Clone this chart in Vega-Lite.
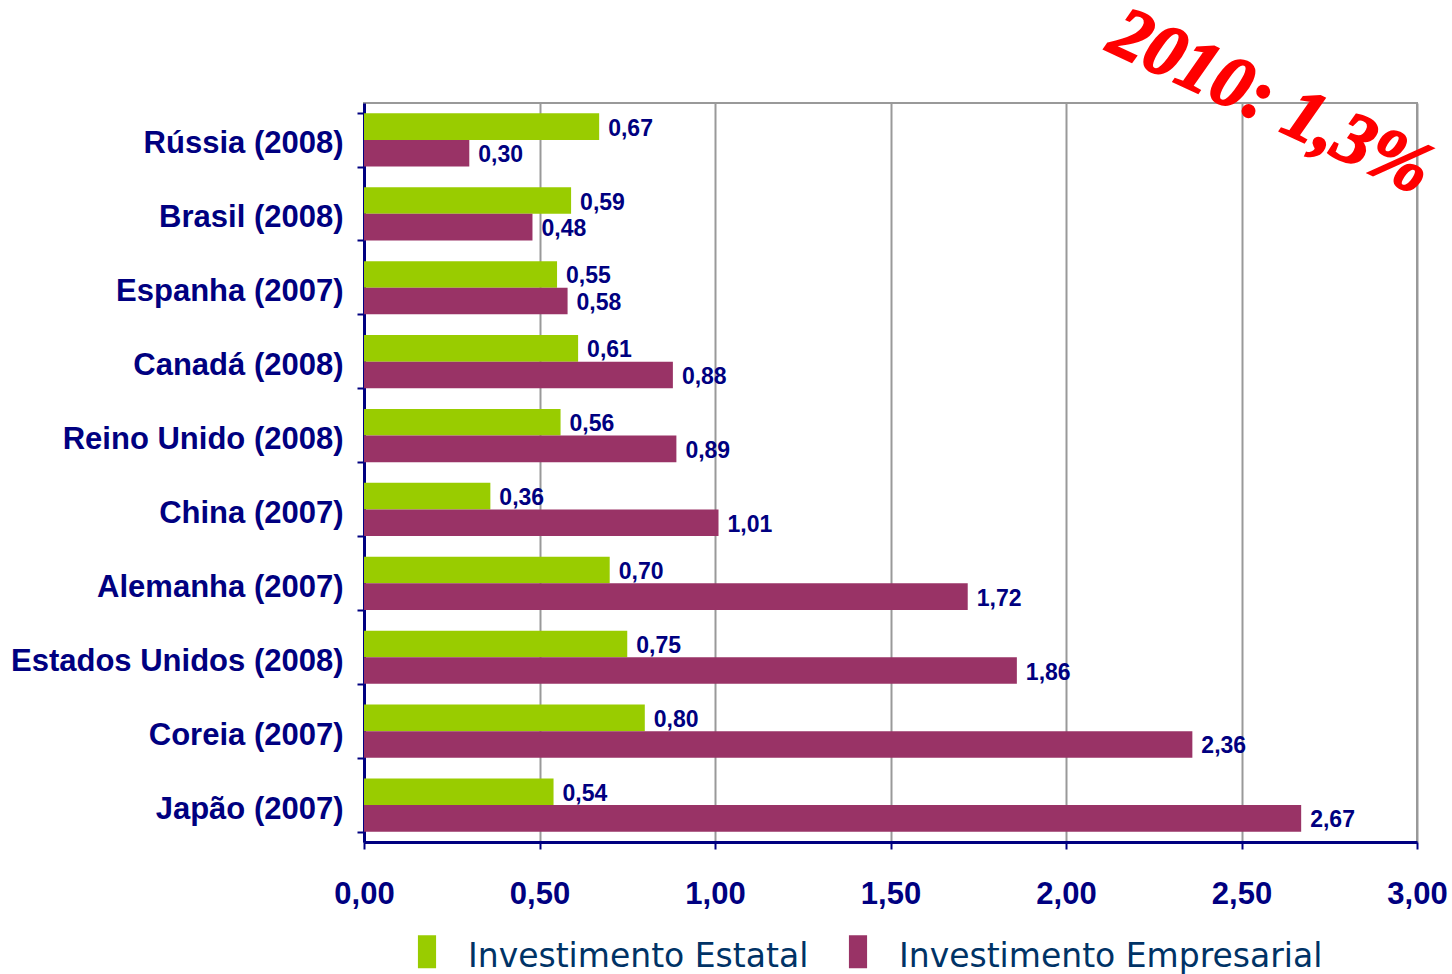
{
  "$schema": "https://vega.github.io/schema/vega-lite/v6.json",
  "width": 1053,
  "height": 739,
  "autosize": {"type": "none"},
  "padding": {"left": 364, "top": 103, "right": 35, "bottom": 132},
  "background": "white",
  "config": {
    "locale": {"number": {"decimal": ",", "thousands": ".", "grouping": [3], "currency": ["", ""]}},
    "view": {"stroke": "#999999", "strokeWidth": 2},
    "font": "Liberation Sans"
  },
  "datasets": {
    "invest": [
      {"pais": "Rússia (2008)", "serie": "Investimento Estatal", "valor": 0.67},
      {"pais": "Rússia (2008)", "serie": "Investimento Empresarial", "valor": 0.30},
      {"pais": "Brasil (2008)", "serie": "Investimento Estatal", "valor": 0.59},
      {"pais": "Brasil (2008)", "serie": "Investimento Empresarial", "valor": 0.48},
      {"pais": "Espanha (2007)", "serie": "Investimento Estatal", "valor": 0.55},
      {"pais": "Espanha (2007)", "serie": "Investimento Empresarial", "valor": 0.58},
      {"pais": "Canadá (2008)", "serie": "Investimento Estatal", "valor": 0.61},
      {"pais": "Canadá (2008)", "serie": "Investimento Empresarial", "valor": 0.88},
      {"pais": "Reino Unido (2008)", "serie": "Investimento Estatal", "valor": 0.56},
      {"pais": "Reino Unido (2008)", "serie": "Investimento Empresarial", "valor": 0.89},
      {"pais": "China (2007)", "serie": "Investimento Estatal", "valor": 0.36},
      {"pais": "China (2007)", "serie": "Investimento Empresarial", "valor": 1.01},
      {"pais": "Alemanha (2007)", "serie": "Investimento Estatal", "valor": 0.70},
      {"pais": "Alemanha (2007)", "serie": "Investimento Empresarial", "valor": 1.72},
      {"pais": "Estados Unidos (2008)", "serie": "Investimento Estatal", "valor": 0.75},
      {"pais": "Estados Unidos (2008)", "serie": "Investimento Empresarial", "valor": 1.86},
      {"pais": "Coreia (2007)", "serie": "Investimento Estatal", "valor": 0.80},
      {"pais": "Coreia (2007)", "serie": "Investimento Empresarial", "valor": 2.36},
      {"pais": "Japão (2007)", "serie": "Investimento Estatal", "valor": 0.54},
      {"pais": "Japão (2007)", "serie": "Investimento Empresarial", "valor": 2.67}
    ],
    "nota": [
      {"texto": "2010: 1,3%", "x": 3, "pais": "Rússia (2008)"}
    ]
  },
  "layer": [
    {
      "data": {"name": "invest"},
      "mark": {"type": "bar"},
      "encoding": {
        "y": {
          "field": "pais",
          "type": "nominal",
          "sort": null,
          "scale": {"paddingInner": 0.28, "paddingOuter": 0.14},
          "axis": {
            "title": null,
            "labelFont": "Liberation Sans",
            "labelFontSize": 31,
            "labelFontWeight": "bold",
            "labelColor": "#000080",
            "labelPadding": 14,
            "labelOffset": 4,
            "labelLimit": 0,
            "tickSize": 7,
            "tickWidth": 2,
            "tickColor": "#000080",
            "tickBand": "extent",
            "domainColor": "#000080",
            "domainWidth": 3
          }
        },
        "yOffset": {"field": "serie", "sort": ["Investimento Estatal", "Investimento Empresarial"]},
        "x": {
          "field": "valor",
          "type": "quantitative",
          "scale": {"domain": [0, 3]},
          "axis": {
            "title": null,
            "values": [0, 0.5, 1, 1.5, 2, 2.5, 3],
            "format": ".2f",
            "grid": true,
            "gridColor": "#999999",
            "gridWidth": 2,
            "labelFont": "Liberation Sans",
            "labelFontSize": 31,
            "labelFontWeight": "bold",
            "labelColor": "#000080",
            "labelPadding": 30,
            "labelFlush": false,
            "tickSize": 7,
            "tickWidth": 2,
            "tickColor": "#000080",
            "domainColor": "#000080",
            "domainWidth": 3
          }
        },
        "color": {
          "field": "serie",
          "type": "nominal",
          "sort": ["Investimento Estatal", "Investimento Empresarial"],
          "scale": {"domain": ["Investimento Estatal", "Investimento Empresarial"], "range": ["#99CC00", "#993366"]},
          "legend": {
            "title": null,
            "orient": "none",
            "legendX": 46.5,
            "legendY": 832,
            "padding": 0,
            "direction": "horizontal",
            "symbolType": "M-0.55,-1H0.55V1H-0.55Z",
            "symbolSize": 1089,
            "symbolStrokeWidth": 0,
            "symbolOpacity": 1,
            "labelFont": "DejaVu Sans",
            "labelFontSize": 33,
            "labelColor": "#003366",
            "labelOffset": 24.5,
            "labelLimit": 0,
            "columnPadding": 33,
            "encode": {
              "symbols": {
                "update": {
                  "fill": {"signal": "datum.value === 'Investimento Empresarial' ? '#990033' : '#99CC00'"}
                }
              },
              "labels": {
                "update": {
                  "dy": {"value": 5}
                }
              }
            }
          }
        }
      }
    },
    {
      "data": {"name": "invest"},
      "mark": {"type": "text", "align": "left", "baseline": "middle", "dx": 9, "dy": 2, "font": "Liberation Sans", "fontSize": 23, "fontWeight": "bold", "color": "#000080"},
      "encoding": {
        "y": {"field": "pais", "type": "nominal", "sort": null},
        "yOffset": {"field": "serie", "sort": ["Investimento Estatal", "Investimento Empresarial"]},
        "x": {"field": "valor", "type": "quantitative"},
        "text": {"field": "valor", "type": "quantitative", "format": ".2f"}
      }
    },
    {
      "data": {"name": "nota"},
      "mark": {
        "type": "text",
        "align": "right",
        "baseline": "alphabetic",
        "angle": 25,
        "dx": 24,
        "dy": 50,
        "font": "'Liberation Serif', 'DejaVu Serif', serif",
        "fontSize": 74,
        "fontStyle": "italic",
        "fontWeight": "bold",
        "color": "#FF0000",
        "stroke": "#FF0000",
        "strokeWidth": 2
      },
      "encoding": {
        "x": {"field": "x", "type": "quantitative"},
        "y": {"field": "pais", "type": "nominal", "sort": null},
        "text": {"field": "texto"}
      }
    }
  ]
}
